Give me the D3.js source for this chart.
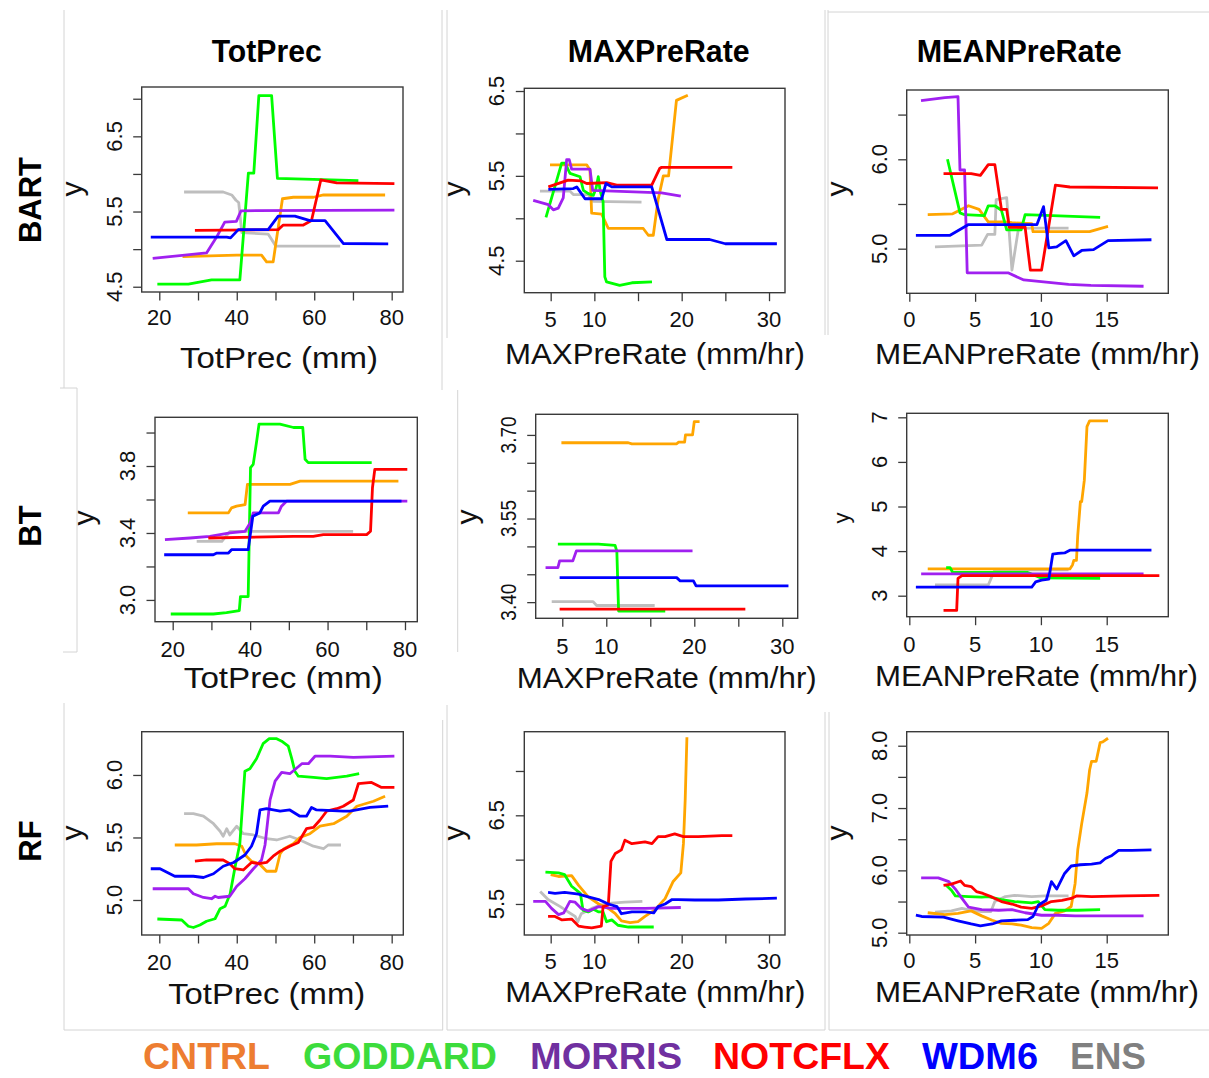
<!DOCTYPE html>
<html>
<head>
<meta charset="utf-8">
<script src="https://cdn.jsdelivr.net/npm/d3@7"></script>
<style>
  body { margin: 0; background: #fff; }
  svg { display: block; font-family: "Liberation Sans", Arial, sans-serif; }
</style>
</head>
<body>
<div id="chart"></div>
<script>
// Model names, in legend order
const MODELS = ['CNTRL', 'GODDARD', 'MORRIS', 'NOTCFLX', 'WDM6', 'ENS'];
const ROWS = ['BART', 'BT', 'RF'];
const COLUMNS = ['TotPrec', 'MAXPreRate', 'MEANPreRate'];
const X_TITLES = ['TotPrec (mm)', 'MAXPreRate (mm/hr)', 'MEANPreRate (mm/hr)'];

// Tick values per x variable
const TOT_TICKS = [20, 30, 40, 50, 60, 70, 80];
const TOT_LABELS = [20, 40, 60, 80];
const MAX_TICKS = [5, 10, 15, 20, 25, 30];
const MAX_LABELS = [5, 10, 20, 30];
const MEAN_TICKS = [0, 5, 10, 15];
const MEAN_LABELS = [0, 5, 10, 15];

// y ticks per panel
const Y_TICKS = [
  [4.5, 5.0, 5.5, 6.0, 6.5, 7.0], [4.5, 5.0, 5.5, 6.0, 6.5], [5.0, 5.5, 6.0, 6.5],
  [3.0, 3.2, 3.4, 3.6, 3.8, 4.0], [3.40, 3.45, 3.50, 3.55, 3.60, 3.65, 3.70], [3, 4, 5, 6, 7],
  [5.0, 5.5, 6.0], [5.5, 6.0, 6.5, 7.0], [5.0, 5.5, 6.0, 6.5, 7.0, 7.5, 8.0]
];
const Y_LABELS = [
  [4.5, 5.5, 6.5], [4.5, 5.5, 6.5], [5.0, 6.0],
  [3.0, 3.4, 3.8], [3.40, 3.55, 3.70], [3, 4, 5, 6, 7],
  [5.0, 5.5, 6.0], [5.5, 6.5], [5.0, 6.0, 7.0, 8.0]
];

// Partial dependence curves, [x, y] per point
const BART_TOTPREC = {
  CNTRL: [[26,4.9],[33,4.91],[40,4.92],[46.4,4.92],[47.7,4.83],[49.4,4.83],[51.8,5.67],[54.6,5.69],[59.8,5.69],[62.4,5.72],[78.3,5.72]],
  GODDARD: [[19.5,4.535],[27.5,4.535],[33.5,4.59],[40.8,4.59],[43,6.01],[44.4,6.01],[45.7,7.04],[49,7.04],[50.5,5.94],[71.4,5.91]],
  MORRIS: [[18.3,4.876],[32.2,4.95],[34.8,5.16],[36.9,5.36],[39.9,5.37],[41.1,5.51],[80.7,5.52]],
  NOTCFLX: [[29.2,5.25],[50.7,5.26],[52,5.32],[57.2,5.32],[59.3,5.38],[61.7,5.92],[65.8,5.88],[80.7,5.87]],
  WDM6: [[17.8,5.16],[37.4,5.16],[38.4,5.15],[40.4,5.26],[48.1,5.26],[50.7,5.44],[55,5.44],[58.9,5.38],[62.8,5.38],[67.5,5.075],[79.1,5.07]],
  ENS: [[26.4,5.76],[36.5,5.76],[38.7,5.72],[39.8,5.65],[40.5,5.62],[41.3,5.22],[48.1,5.2],[50.1,5.04],[66.7,5.04]]
};
const BART_MAXPRE = {
  CNTRL: [[4.92,5.63],[9.12,5.63],[9.5,5.57],[9.69,5.06],[10.84,5.05],[11.6,4.88],[15.6,4.88],[16.18,4.8],[16.75,4.8],[17.3,5.22],[17.9,5.5],[18.5,5.5],[19.4,6.39],[20.7,6.45]],
  GODDARD: [[4.46,5.01],[6.26,5.65],[6.65,5.65],[7.21,5.53],[8.36,5.49],[8.74,5.33],[9.31,5.29],[9.88,5.27],[10.19,5.35],[10.45,5.49],[10.65,5.33],[11.0,5.2],[11.2,4.31],[11.4,4.25],[12.9,4.21],[14.3,4.24],[16.6,4.25]],
  MORRIS: [[3.0,5.21],[4.73,5.16],[5.3,5.1],[5.87,5.12],[6.44,5.24],[6.83,5.69],[7.13,5.69],[7.4,5.58],[9.5,5.58],[9.81,5.33],[17.7,5.3],[19.9,5.26]],
  NOTCFLX: [[4.73,5.37],[7.0,5.45],[8.5,5.44],[9.12,5.41],[11.41,5.42],[12.56,5.39],[16.57,5.39],[17.5,5.59],[17.7,5.6],[25.8,5.6]],
  WDM6: [[4.73,5.34],[7.59,5.35],[7.98,5.37],[8.93,5.23],[10.84,5.23],[11.33,5.41],[11.99,5.37],[16.57,5.37],[18.3,4.75],[23.2,4.75],[25,4.7],[30.9,4.7]],
  ENS: [[3.77,5.32],[7.21,5.32],[7.59,5.28],[9.3,5.28],[9.88,5.2],[15.4,5.19]]
};
const BART_MEANPRE = {
  CNTRL: [[1.4,5.38],[3.3,5.39],[4.5,5.48],[5.3,5.44],[6.0,5.3],[7.3,5.3],[7.8,5.29],[9.3,5.28],[9.4,5.19],[13.7,5.19],[15.1,5.25]],
  GODDARD: [[2.9,6.0],[3.85,5.4],[4.2,5.38],[5.7,5.37],[6.0,5.48],[6.5,5.48],[7.0,5.43],[7.4,5.21],[8.5,5.21],[8.8,5.38],[14.5,5.35]],
  MORRIS: [[0.89,6.657],[2.7,6.69],[3.7,6.7],[3.85,5.88],[4.2,5.88],[4.4,4.73],[7.5,4.73],[8.7,4.65],[12.1,4.6],[13.8,4.59],[17.8,4.58]],
  NOTCFLX: [[2.6,5.84],[4.7,5.84],[5.4,5.82],[6.0,5.94],[6.5,5.94],[7.0,5.44],[7.4,5.44],[7.6,5.24],[8.8,5.24],[9.2,4.76],[10.05,4.76],[11.1,5.71],[12.2,5.69],[18.9,5.68]],
  WDM6: [[0.5,5.15],[3.1,5.15],[4.5,5.27],[9.7,5.27],[10.2,5.47],[10.6,5.01],[11.2,5.02],[11.9,5.09],[12.5,4.92],[13.1,4.98],[14,4.99],[15.1,5.09],[18.4,5.1]],
  ENS: [[1.95,5.02],[5.5,5.04],[5.95,5.16],[6.5,5.16],[6.6,5.55],[7.4,5.57],[7.8,4.76],[8.3,5.23],[12.1,5.23]]
};
const BT_TOTPREC = {
  CNTRL: [[23.9,3.52],[34.4,3.52],[35.2,3.55],[36.5,3.56],[38.7,3.57],[39.3,3.69],[50.3,3.69],[52.9,3.71],[78.3,3.71]],
  GODDARD: [[19.5,2.916],[30.5,2.916],[33.9,2.924],[37.2,2.936],[37.5,3.02],[39.5,3.02],[40.1,3.79],[40.8,3.81],[41.7,3.95],[42.3,4.05],[47.7,4.05],[51.2,4.03],[53.6,4.03],[54.2,3.84],[55,3.82],[71.4,3.82]],
  MORRIS: [[18,3.36],[24.5,3.37],[29.6,3.38],[34.8,3.4],[38.7,3.41],[40,3.46],[40.8,3.52],[47.3,3.52],[48.1,3.56],[49.4,3.59],[80.6,3.59]],
  NOTCFLX: [[29.2,3.37],[51.2,3.38],[56.3,3.38],[58.9,3.39],[70.1,3.39],[71.1,3.41],[71.6,3.67],[72.2,3.78],[80.6,3.78]],
  WDM6: [[17.8,3.27],[30.5,3.27],[31.4,3.28],[34.4,3.28],[35.2,3.3],[39.5,3.3],[40.7,3.5],[42.5,3.52],[43.4,3.56],[45.1,3.59],[79.1,3.59]],
  ENS: [[26.2,3.35],[32.7,3.35],[34.8,3.41],[66.6,3.41]]
};
const BT_MAXPRE = {
  CNTRL: [[4.9,3.686],[12.5,3.686],[12.9,3.684],[18,3.684],[18.2,3.687],[18.9,3.687],[19,3.7],[19.8,3.7],[20,3.724],[20.6,3.724]],
  GODDARD: [[4.5,3.504],[9.1,3.504],[11,3.502],[11.2,3.491],[11.4,3.384],[16.7,3.384]],
  MORRIS: [[3.1,3.462],[4.5,3.462],[4.7,3.474],[6.2,3.474],[6.6,3.492],[19.8,3.492]],
  NOTCFLX: [[4.7,3.3875],[25.8,3.3875]],
  WDM6: [[4.7,3.444],[18,3.444],[18.4,3.438],[19.9,3.438],[20.2,3.429],[30.7,3.429]],
  ENS: [[3.8,3.401],[8.5,3.401],[8.9,3.394],[15.5,3.394]]
};
const BT_MEANPRE = {
  CNTRL: [[1.4,3.6],[12.2,3.6],[12.4,3.69],[12.5,3.79],[12.7,3.79],[12.8,4.36],[13.0,5.11],[13.1,5.11],[13.3,5.59],[13.5,6.79],[13.7,6.92],[15.1,6.92]],
  GODDARD: [[2.8,3.63],[3.1,3.63],[3.3,3.52],[9.0,3.52],[10,3.4],[14.5,3.39]],
  MORRIS: [[0.9,3.49],[17.8,3.49]],
  NOTCFLX: [[2.6,2.67],[3.6,2.67],[3.7,3.39],[4.0,3.45],[19,3.45]],
  WDM6: [[0.5,3.19],[9.3,3.19],[9.6,3.31],[10.05,3.35],[10.6,3.37],[10.9,3.93],[11.3,3.95],[11.8,3.96],[12.2,4.02],[18.4,4.02]],
  ENS: [[1.95,3.24],[6.0,3.24],[6.5,3.58],[12.1,3.58]]
};
const RF_TOTPREC = {
  CNTRL: [[24,5.44],[29.6,5.44],[34.8,5.45],[39.5,5.45],[41.3,5.43],[42.5,5.35],[43.8,5.31],[45.8,5.29],[47.7,5.23],[50.1,5.23],[51.2,5.37],[52.2,5.41],[54.6,5.45],[56.3,5.5],[58.9,5.53],[61.5,5.59],[65,5.61],[68.4,5.67],[71,5.75],[75.3,5.79],[78.3,5.83]],
  GODDARD: [[19.5,4.848],[25.8,4.84],[27.5,4.79],[28.8,4.78],[30.5,4.8],[32.2,4.83],[34.4,4.85],[35.7,4.93],[37,4.95],[38.3,5.05],[39.6,5.27],[40.8,5.45],[42.1,6.03],[43.4,6.05],[45.1,6.13],[46.8,6.25],[48.4,6.29],[50.3,6.29],[51.6,6.27],[53.3,6.23],[54.2,6.13],[55,6.03],[55.9,5.99],[59.8,5.98],[63.2,5.97],[68.4,5.99],[71.6,6.01]],
  MORRIS: [[18.3,5.09],[25.3,5.09],[27.5,5.09],[28.8,5.05],[31.4,5.02],[33.5,5.01],[34.4,5.03],[35.2,5.02],[38.2,5.03],[40,5.11],[42.1,5.17],[44.3,5.25],[46.4,5.32],[47.3,5.44],[48.6,5.8],[49.9,5.95],[51.6,6.02],[53.7,6.01],[56.8,6.09],[58.5,6.09],[60.2,6.15],[64.1,6.15],[70.1,6.14],[80.7,6.15]],
  NOTCFLX: [[29.2,5.31],[32.2,5.32],[36.5,5.32],[38.2,5.29],[39.5,5.25],[41.7,5.24],[43.8,5.3],[45.8,5.29],[47.7,5.3],[49.4,5.35],[51.2,5.39],[53.7,5.43],[55.9,5.46],[58,5.57],[59.8,5.58],[61.5,5.64],[63.2,5.71],[65.8,5.73],[67.5,5.75],[70.1,5.8],[71.4,5.93],[74.8,5.94],[77.4,5.9],[80.7,5.9]],
  WDM6: [[17.8,5.25],[20.2,5.25],[24,5.19],[28.8,5.19],[31.4,5.18],[34,5.21],[36.5,5.27],[39.2,5.3],[42.1,5.36],[43.8,5.43],[45.1,5.53],[46,5.72],[47.7,5.73],[51.2,5.71],[53.7,5.72],[56.3,5.67],[58,5.67],[59.3,5.74],[60.6,5.72],[67.5,5.71],[69.2,5.71],[74.4,5.74],[79.1,5.75]],
  ENS: [[26.4,5.69],[28.8,5.69],[31.4,5.67],[34,5.61],[35.7,5.55],[36.5,5.51],[37.4,5.57],[38.2,5.52],[40,5.59],[41.7,5.53],[44.3,5.52],[47.7,5.49],[50.3,5.48],[53.7,5.51],[56.3,5.48],[59.8,5.43],[62.4,5.41],[63.6,5.44],[66.9,5.44]]
};
const RF_MAXPRE = {
  CNTRL: [[5,5.83],[5.9,5.81],[7.4,5.82],[8.2,5.71],[9.3,5.58],[10.5,5.5],[11.6,5.45],[12.4,5.39],[13.1,5.31],[14.1,5.29],[15,5.3],[15.8,5.36],[16.9,5.43],[18.1,5.56],[19,5.75],[19.9,5.85],[20.2,6.18],[20.4,6.67],[20.6,7.38]],
  GODDARD: [[4.4,5.86],[5.9,5.85],[6.6,5.83],[7.4,5.7],[8.4,5.62],[8.7,5.43],[9.3,5.41],[9.9,5.44],[10.5,5.41],[11.0,5.41],[11.4,5.3],[12,5.32],[12.7,5.26],[13.9,5.24],[16.8,5.24]],
  MORRIS: [[3.0,5.53],[4.4,5.53],[5.1,5.45],[5.9,5.38],[6.5,5.4],[7.2,5.53],[7.8,5.52],[8.5,5.45],[9.3,5.42],[10.5,5.47],[12,5.45],[15.8,5.45],[19.9,5.46]],
  NOTCFLX: [[4.7,5.36],[5.5,5.36],[6.3,5.32],[7.4,5.33],[8.2,5.25],[8.9,5.24],[9.7,5.23],[10.8,5.25],[11,5.47],[11.6,5.49],[11.9,5.98],[12.4,6.07],[13.1,6.11],[13.5,6.22],[14.3,6.18],[15.8,6.2],[16.6,6.18],[17.3,6.26],[18.1,6.26],[19.2,6.29],[20.2,6.26],[21.9,6.26],[24.6,6.27],[25.8,6.27]],
  WDM6: [[4.7,5.63],[5.5,5.62],[6.6,5.63],[8.2,5.61],[9.3,5.58],[10.5,5.55],[11.6,5.5],[12.6,5.47],[13.1,5.39],[14.3,5.41],[15.8,5.41],[16.8,5.4],[17.3,5.47],[18.1,5.5],[18.9,5.55],[19.6,5.55],[21.5,5.545],[24.2,5.545],[27.3,5.556],[30.9,5.565]],
  ENS: [[3.8,5.64],[4.7,5.55],[6.1,5.47],[7,5.41],[7.8,5.36],[8.1,5.3],[8.5,5.39],[9.7,5.45],[10.8,5.49],[12,5.51],[13.5,5.52],[15.5,5.53]]
};
const RF_MEANPRE = {
  CNTRL: [[1.4,5.32],[2.7,5.29],[3.7,5.31],[4.7,5.35],[5.5,5.27],[6.3,5.2],[7,5.15],[7.8,5.14],[8.5,5.12],[9.3,5.08],[10.05,5.07],[10.6,5.15],[11.1,5.31],[11.8,5.35],[12.3,5.42],[12.6,5.79],[12.8,6.33],[13.1,6.75],[13.5,7.24],[13.7,7.61],[13.85,7.75],[14.2,7.75],[14.5,8.05],[14.7,8.06],[15.1,8.12]],
  GODDARD: [[2.8,5.76],[3.2,5.68],[3.5,5.59],[4.5,5.58],[5.5,5.57],[6.0,5.58],[7.0,5.53],[8.0,5.5],[9.3,5.48],[9.8,5.5],[10.3,5.37],[11.3,5.36],[12.8,5.36],[14.5,5.37]],
  MORRIS: [[0.9,5.88],[2.2,5.88],[3.0,5.82],[3.5,5.7],[4.0,5.55],[4.5,5.41],[5.5,5.37],[6.8,5.36],[7.8,5.37],[8.8,5.32],[10.05,5.28],[11.3,5.28],[12.6,5.27],[17.8,5.27]],
  NOTCFLX: [[2.6,5.76],[3.2,5.78],[3.9,5.83],[4.2,5.76],[4.7,5.74],[5.1,5.66],[5.6,5.63],[6.3,5.57],[7.0,5.5],[7.8,5.46],[8.5,5.41],[9.3,5.39],[10.05,5.43],[10.8,5.5],[11.6,5.52],[12.3,5.55],[12.7,5.59],[13.85,5.58],[16.4,5.59],[19,5.6]],
  WDM6: [[0.5,5.28],[0.94,5.26],[2.6,5.25],[3.7,5.19],[4.7,5.14],[5.4,5.11],[6.3,5.14],[7,5.19],[8,5.2],[9.0,5.21],[9.4,5.26],[9.8,5.44],[10.4,5.52],[10.8,5.82],[11.2,5.7],[11.8,5.95],[12.3,6.07],[13,6.09],[13.85,6.1],[14.5,6.12],[14.9,6.19],[15.4,6.24],[15.9,6.32],[16.9,6.32],[18.4,6.33]],
  ENS: [[1.95,5.33],[3.2,5.35],[4.0,5.39],[4.7,5.36],[5.5,5.34],[6.2,5.34],[6.5,5.5],[7.3,5.58],[8.0,5.6],[9.3,5.58],[10.3,5.59],[12.1,5.59]]
};

(function() {
  const width = 1209;
  const height = 1078;

  // Line colours (R defaults) and legend colours
  const lineColor = d3.scaleOrdinal()
    .domain(MODELS)
    .range(['#FFA500', '#00FF00', '#A020F0', '#FF0000', '#0000FF', '#BEBEBE']);
  const legendColor = d3.scaleOrdinal()
    .domain(MODELS)
    .range(['#ED7D31', '#3CDC3C', '#7030A0', '#FF0000', '#0000FF', '#808080']);

  // Panel layout: plot box [l, t, r, b], domain at box edges, text positions.
  const panels = [
    {data: BART_TOTPREC, box: [141.7, 87, 403, 292], xd: [15.46, 82.92], yd: [4.43, 7.156], col: 0, fmt: '.1f',
      xLab: 325, title: [279, 368, 198], yt: [76.7, 189, 30]},
    {data: BART_MAXPRE, box: [524.3, 88.3, 785, 292.7], xd: [1.98, 31.83], yd: [4.123, 6.532], col: 1, fmt: '.1f',
      xLab: 326.7, title: [655, 364, 300], yt: [459, 189, 30]},
    {data: BART_MEANPRE, box: [906.7, 90, 1168.3, 293.3], xd: [-0.198, 19.68], yd: [4.501, 6.775], col: 2, fmt: '.1f',
      xLab: 326.7, title: [1037.5, 364, 325], yt: [841.7, 189, 30]},
    {data: BT_TOTPREC, box: [155, 417.3, 417.3, 621.7], xd: [15.43, 83.18], yd: [2.87, 4.091], col: 0, fmt: '.1f',
      xLab: 656.7, title: [283.3, 688, 199], yt: [89, 518, 30]},
    {data: BT_MAXPRE, box: [535.7, 414.3, 797.7, 618.3], xd: [1.98, 31.75], yd: [3.371, 3.737], col: 1, fmt: '.2f',
      xLab: 654.3, title: [666.7, 688, 300], yt: [472, 517, 30], yLen: 37},
    {data: BT_MEANPRE, box: [906.7, 413.3, 1168.3, 616.7], xd: [-0.198, 19.68], yd: [2.529, 7.09], col: 2, fmt: 'd',
      xLab: 651.7, title: [1036.5, 686, 323], yt: [845, 518, 22]},
    {data: RF_TOTPREC, box: [141.7, 731.7, 403.3, 935], xd: [15.46, 83.0], yd: [4.72, 6.346], col: 0, fmt: '.1f',
      xLab: 970, title: [266.7, 1004, 197], yt: [76.7, 833, 30]},
    {data: RF_MAXPRE, box: [524.3, 731.7, 785, 935], xd: [1.98, 31.83], yd: [5.15, 7.443], col: 1, fmt: '.1f',
      xLab: 969.3, title: [655.3, 1002, 300], yt: [459, 833, 30]},
    {data: RF_MEANPRE, box: [906.7, 731.7, 1168.3, 935], xd: [-0.198, 19.68], yd: [4.963, 8.225], col: 2, fmt: '.1f',
      xLab: 968.3, title: [1037, 1002, 324], yt: [842, 833, 30]}
  ];
  const xTicks = [TOT_TICKS, MAX_TICKS, MEAN_TICKS];
  const xLabels = [TOT_LABELS, MAX_LABELS, MEAN_LABELS];

  const svg = d3.select('#chart')
    .append('svg')
    .attr('width', width)
    .attr('height', height);

  // Faint frames left over from the pasted sub-figures
  const frames = [
    [64, 10, 64, 388], [60, 388, 77, 388], [77, 388, 77, 652], [63, 652, 77, 652], [64, 703, 64, 1030],
    [442, 10, 442, 390], [447, 10, 447, 338], [457.7, 390, 457.7, 652], [447, 705, 447, 1030], [442.7, 720, 442.7, 1030],
    [825, 10, 825, 335], [828, 10, 828, 335], [825, 712, 825, 1030], [829, 712, 829, 1030],
    [828, 12, 1209, 12], [64, 1030, 443, 1030], [447, 1030, 825, 1030], [829, 1030, 1209, 1030]
  ];
  svg.append('g')
    .selectAll('line')
    .data(frames)
    .enter()
    .append('line')
    .attr('x1', d => d[0]).attr('y1', d => d[1])
    .attr('x2', d => d[2]).attr('y2', d => d[3])
    .style('stroke', '#d4d4d4')
    .style('stroke-width', 1);

  // Column titles
  const colTitles = [[211.7, 110], [567.7, 182], [916.7, 205]];
  svg.append('g')
    .selectAll('text')
    .data(COLUMNS)
    .enter()
    .append('text')
    .text(d => d)
    .attr('x', (d, i) => colTitles[i][0])
    .attr('y', 61.7)
    .attr('textLength', (d, i) => colTitles[i][1])
    .attr('lengthAdjust', 'spacingAndGlyphs')
    .style('font-size', '32px')
    .style('font-weight', 'bold');

  // Row titles
  const rowY = [200, 526, 841];
  svg.append('g')
    .selectAll('text')
    .data(ROWS)
    .enter()
    .append('text')
    .text(d => d)
    .attr('transform', (d, i) => `translate(41, ${rowY[i]}) rotate(-90)`)
    .style('text-anchor', 'middle')
    .style('font-size', '31px')
    .style('font-weight', 'bold');

  panels.forEach((p, i) => {
    const [l, t, r, b] = p.box;
    const x = d3.scaleLinear().domain(p.xd).range([l, r]);
    const y = d3.scaleLinear().domain(p.yd).range([b, t]);
    const g = svg.append('g').classed('panel', true);
    const fmtY = d3.format(p.fmt);

    // Curves, ensemble underneath
    const line = d3.line().x(d => x(d[0])).y(d => y(d[1]));
    const order = ['ENS', 'CNTRL', 'GODDARD', 'MORRIS', 'NOTCFLX', 'WDM6'];
    g.append('g')
      .selectAll('path')
      .data(order)
      .enter()
      .append('path')
      .attr('d', m => line(p.data[m]))
      .style('fill', 'none')
      .style('stroke', m => lineColor(m))
      .style('stroke-width', 2.8)
      .style('stroke-linejoin', 'round')
      .style('stroke-linecap', 'butt');

    // Box
    g.append('rect')
      .attr('x', l).attr('y', t)
      .attr('width', r - l).attr('height', b - t)
      .style('fill', 'none')
      .style('stroke', '#3a3a3a')
      .style('stroke-width', 1.4);

    // x axis ticks and labels
    const xAxis = d3.axisBottom(x)
      .tickValues(xTicks[p.col])
      .tickSize(8.5)
      .tickFormat('');
    const xg = g.append('g')
      .attr('transform', `translate(0, ${b})`)
      .call(xAxis);
    xg.select('.domain').remove();
    xg.selectAll('.tick line').style('stroke', '#3a3a3a').style('stroke-width', 1.3);
    g.append('g')
      .selectAll('text')
      .data(xLabels[p.col])
      .enter()
      .append('text')
      .text(d => d)
      .attr('x', d => x(d))
      .attr('y', p.xLab)
      .style('text-anchor', 'middle')
      .style('font-size', '22px')
      .style('fill', '#111');

    // y axis ticks and rotated labels
    const yAxis = d3.axisLeft(y)
      .tickValues(Y_TICKS[i])
      .tickSize(8.5)
      .tickFormat('');
    const yg = g.append('g')
      .attr('transform', `translate(${l}, 0)`)
      .call(yAxis);
    yg.select('.domain').remove();
    yg.selectAll('.tick line').style('stroke', '#3a3a3a').style('stroke-width', 1.3);
    const yl = g.append('g')
      .selectAll('text')
      .data(Y_LABELS[i])
      .enter()
      .append('text')
      .text(d => fmtY(d))
      .attr('transform', d => `translate(${l - 20}, ${y(d)}) rotate(-90)`)
      .style('text-anchor', 'middle')
      .style('font-size', '22px')
      .style('fill', '#111');
    if (p.yLen) {
      yl.attr('textLength', p.yLen).attr('lengthAdjust', 'spacingAndGlyphs');
    }

    // Axis titles
    g.append('text')
      .text(X_TITLES[p.col])
      .attr('x', p.title[0] - p.title[2] / 2)
      .attr('y', p.title[1])
      .attr('textLength', p.title[2])
      .attr('lengthAdjust', 'spacingAndGlyphs')
      .style('font-size', '30px')
      .style('fill', '#111');
    g.append('text')
      .text('y')
      .attr('transform', `translate(${p.yt[0] + p.yt[2] * 0.16}, ${p.yt[1]}) rotate(-90)`)
      .style('text-anchor', 'middle')
      .style('font-size', p.yt[2] + 'px')
      .style('fill', '#111');
  });

  // Legend
  const legendPos = [[143, 127], [303, 194], [530, 152], [713, 177], [922, 116], [1070, 76]];
  svg.append('g')
    .selectAll('text')
    .data(MODELS)
    .enter()
    .append('text')
    .text(d => d)
    .attr('x', (d, i) => legendPos[i][0])
    .attr('y', 1069)
    .attr('textLength', (d, i) => legendPos[i][1])
    .attr('lengthAdjust', 'spacingAndGlyphs')
    .style('font-size', '37px')
    .style('font-weight', 'bold')
    .style('fill', d => legendColor(d));
})();
</script>
</body>
</html>
